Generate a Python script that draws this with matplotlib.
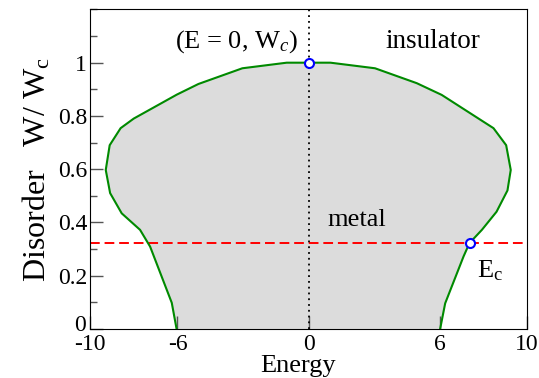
import matplotlib
matplotlib.use("Agg")
import matplotlib.pyplot as plt
import matplotlib.transforms as mtransforms
from matplotlib.ticker import MultipleLocator

plt.rcParams['font.family'] = ['Liberation Serif', 'DejaVu Serif']
plt.rcParams['mathtext.fontset'] = 'custom'
plt.rcParams['mathtext.rm'] = 'Liberation Serif'
plt.rcParams['mathtext.it'] = 'Liberation Serif:italic'

# mobility edge trajectory, left branch bottom->top then right branch top->bottom
energy = [-6.04, -6.26, -7.25, -7.71, -8.55, -9.08, -9.28, -9.10, -8.60, -8.00,
          -6.03, -5.04, -3.03, -1.00, 0.00, 1.00, 3.04, 4.95, 6.09, 8.46,
          9.04, 9.25, 9.10, 8.60, 7.93, 7.36, 7.09, 6.25, 6.02]
disorder = [0.0, 0.098, 0.309, 0.372, 0.434, 0.51, 0.597, 0.69, 0.754, 0.79,
            0.88, 0.92, 0.979, 1.0, 1.0, 1.0, 0.979, 0.923, 0.879, 0.754,
            0.69, 0.597, 0.52, 0.44, 0.372, 0.322, 0.272, 0.096, 0.0]

w_cut = 0.324          # red dashed disorder level
crit_E = [0.0, 7.39]   # marked points
crit_W = [1.0, 0.324]

x_ticks = [-10, -6, 0, 6, 10]
y_ticks = [0, 0.2, 0.4, 0.6, 0.8, 1]


def draw_figure():
    fig = plt.figure(figsize=(5.39, 3.78), dpi=100)
    ax = fig.add_axes([0.167, 0.13, 0.811, 0.845])

    ax.fill(energy, disorder, color="#dcdcdc", lw=0, zorder=1)
    ax.plot(energy, disorder, color="#008a00", lw=1.5, zorder=3)
    ax.axhline(w_cut, color="#ff0000", lw=1.4, dashes=(5, 2.5), zorder=2)
    ax.axvline(0, color="black", lw=1.3, linestyle=(0, (1, 2.2)), zorder=2)
    ax.plot(crit_E, crit_W, "o", ms=6.5, mfc="white", mec="#0000ff", mew=1.5,
            zorder=4, clip_on=False)

    ax.text(-3.3, 1.078, r"(E = 0, W$_\mathit{c}$)", fontsize=19, ha="center", va="center")
    ax.text(5.7, 1.078, "insulator", fontsize=19.5, ha="center", va="center")
    ax.text(2.2, 0.41, "metal", fontsize=19, ha="center", va="center")
    ax.text(7.72, 0.22, r"E$_\mathrm{c}$", fontsize=19, ha="left", va="center")

    ax.set_xlim(-10, 10)
    ax.set_ylim(0, 1.2)
    ax.set_xticks(x_ticks)
    ax.set_xticklabels([str(t) for t in x_ticks])
    ax.set_yticks(y_ticks)
    ax.set_yticklabels(["0", "0.2", "0.4", "0.6", "0.8", "1"])
    ax.yaxis.set_minor_locator(MultipleLocator(0.1))
    ax.tick_params(which="both", direction="in", colors="#555555", labelcolor="black",
                   labelsize=17, top=False, right=False)
    ax.tick_params(axis="x", pad=4)
    ax.tick_params(axis="y", pad=2)
    ax.tick_params(which="major", length=9.5, width=1.0)
    ax.tick_params(which="minor", length=5, width=1.0)

    # lift the "0" on the y axis a little so it clears "-10"
    lab0 = ax.get_yticklabels()[0]
    lab0.set_transform(lab0.get_transform() +
                       mtransforms.ScaledTranslation(-1 / 72, 4 / 72, fig.dpi_scale_trans))

    ax.set_xlabel("Energy", fontsize=19, labelpad=0, x=0.477)
    ax.set_ylabel(r"Disorder   W/ W$_\mathrm{c}$", fontsize=23, labelpad=4)

    plt.savefig("out.png", dpi=100)


if __name__ == "__main__":
    draw_figure()
